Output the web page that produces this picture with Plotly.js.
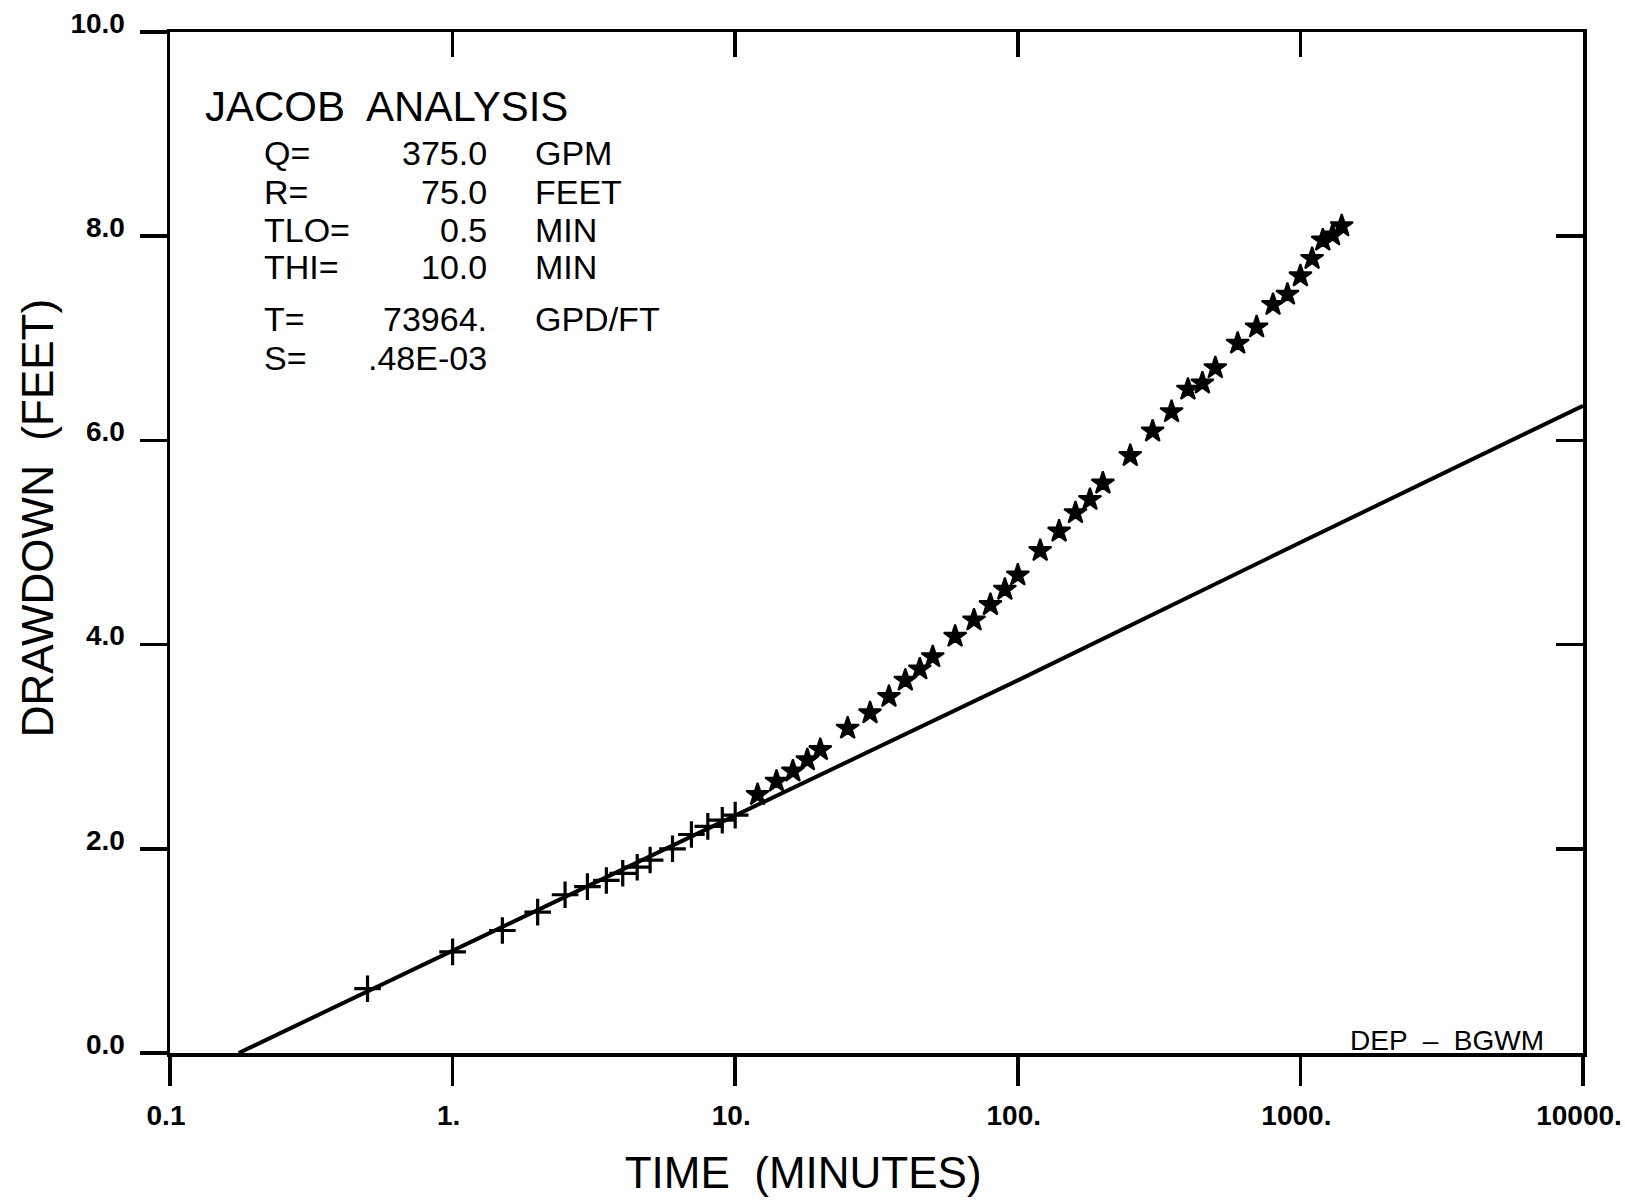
<!DOCTYPE html>
<html>
<head>
<meta charset="utf-8">
<script src="https://cdn.plot.ly/plotly-3.0.1.min.js"></script>
<style>
html,body{margin:0;padding:0;background:#fff;}
#chart{width:1625px;height:1200px;}
</style>
</head>
<body>
<div id="chart"></div>
<script>
// ---- data ----
const crossTime = [0.5, 1, 1.5, 2, 2.5, 3, 3.5, 4, 4.5, 5, 6, 7, 8, 9, 10];
const crossDrawdown = [0.63, 0.99, 1.20, 1.38, 1.55, 1.63, 1.69, 1.76, 1.82, 1.89, 2.00, 2.14, 2.22, 2.28, 2.33];

const starTime = [12, 14, 16, 18, 20, 25, 30, 35, 40, 45, 50, 60, 70, 80, 90, 100,
  120, 140, 160, 180, 200, 250, 300, 350, 400, 450, 500, 600, 700, 800, 900, 1000,
  1100, 1200, 1300, 1400];
const starDrawdown = [2.53, 2.66, 2.76, 2.87, 2.97, 3.18, 3.33, 3.49, 3.65, 3.76, 3.88, 4.08, 4.24, 4.39, 4.54, 4.68,
  4.92, 5.11, 5.29, 5.42, 5.58, 5.85, 6.09, 6.28, 6.50, 6.56, 6.71, 6.95, 7.11, 7.33, 7.43, 7.61,
  7.78, 7.96, 8.01, 8.10];

const lineTime = [0.175, 1, 10, 100, 1000, 10000];
const lineDrawdown = [0, 1.00, 2.33, 3.65, 5.00, 6.34];

const xTickVals = [0.1, 1, 10, 100, 1000, 10000];
const xTickText = ['0.1', '1.', '10.', '100.', '1000.', '10000.'];
const yTickVals = [0, 2, 4, 6, 8, 10];
const yTickText = ['0.0', '2.0', '4.0', '6.0', '8.0', '10.0'];

const infoLabels = ['Q=', 'R=', 'TLO=', 'THI=', 'T=', 'S='];
const infoValues = ['375.0', '75.0', '0.5', '10.0', '73964.', '.48E-03'];
const infoUnits = ['GPM', 'FEET', 'MIN', 'MIN', 'GPD/FT', ''];

const infoTitle = 'JACOB  ANALYSIS';
const tagText = 'DEP  \u2013  BGWM';
const xTitle = 'TIME  (MINUTES)';
const yTitle = 'DRAWDOWN  (FEET)';

// ---- layout geometry (pixels) ----
const W = 1625, H = 1200;
const L = 170, R = 1583, T = 32, B = 1053;
const px = x => (x - L) / (R - L);
const py = y => (B - y) / (B - T);

const FONT = 'Liberation Sans, Arial, sans-serif';
const black = '#000000';

const traces = [
  {
    x: lineTime, y: lineDrawdown, type: 'scatter', mode: 'lines',
    line: {color: black, width: 4}, hoverinfo: 'skip'
  },
  {
    x: crossTime, y: crossDrawdown, type: 'scatter', mode: 'markers',
    marker: {symbol: 'cross-thin', size: 19, color: black, line: {color: black, width: 3.2}}
  },
  {
    x: starTime, y: starDrawdown, type: 'scatter', mode: 'markers',
    marker: {symbol: 'star', size: 17, color: black, line: {color: black, width: 2}}
  },
  {x: [], y: [], xaxis: 'x2', yaxis: 'y2', type: 'scatter', mode: 'markers', hoverinfo: 'skip'}
];

// non-breaking padding kept after trimming by a zero-width guard, used to offset the centred titles
const pad = n => '\u00a0'.repeat(n);
const ZW = '\u200b';

const annotations = [];
annotations.push({
  xref: 'paper', yref: 'paper', x: px(203), y: py(106), xanchor: 'left', yanchor: 'middle',
  text: infoTitle, showarrow: false, font: {family: FONT, size: 42, color: black}
});
const rowY = [153, 192, 230, 267, 319, 358];
for (let i = 0; i < infoLabels.length; i++) {
  annotations.push({xref: 'paper', yref: 'paper', x: px(262), y: py(rowY[i]), xanchor: 'left', yanchor: 'middle',
    text: infoLabels[i], showarrow: false, font: {family: FONT, size: 34, color: black}});
  annotations.push({xref: 'paper', yref: 'paper', x: px(489), y: py(rowY[i]), xanchor: 'right', yanchor: 'middle',
    text: infoValues[i], showarrow: false, font: {family: FONT, size: 34, color: black}});
  if (infoUnits[i]) {
    annotations.push({xref: 'paper', yref: 'paper', x: px(533), y: py(rowY[i]), xanchor: 'left', yanchor: 'middle',
      text: infoUnits[i], showarrow: false, font: {family: FONT, size: 34, color: black}});
  }
}
annotations.push({
  xref: 'paper', yref: 'paper', x: px(1447), y: py(1040), xanchor: 'center', yanchor: 'middle',
  text: tagText, showarrow: false, font: {family: FONT, size: 28, color: black}
});

const layout = {
  width: W, height: H,
  margin: {l: L, r: W - R, t: T, b: H - B, pad: 0},
  paper_bgcolor: '#ffffff', plot_bgcolor: '#ffffff',
  showlegend: false,
  font: {family: FONT, color: black},
  xaxis: {
    type: 'log', range: [-1, 4], showgrid: false, zeroline: false,
    showline: true, linecolor: black, linewidth: 3.5,
    tickmode: 'array', tickvals: xTickVals, ticktext: xTickText,
    ticks: 'outside', ticklen: 29, tickwidth: 3.5, tickcolor: black,
    tickfont: {family: FONT, size: 28, weight: 'bold', color: black},
    ticklabelstandoff: 6, ticklabelshift: -4, ticklabeloverflow: 'allow',
    title: {text: xTitle + pad(12) + ZW, font: {family: FONT, size: 44, color: black}, standoff: 28}
  },
  yaxis: {
    range: [0, 10], showgrid: false, zeroline: false,
    showline: true, linecolor: black, linewidth: 3.5,
    tickmode: 'array', tickvals: yTickVals, ticktext: yTickText,
    ticks: 'outside', ticklen: 27, tickwidth: 3.5, tickcolor: black,
    tickfont: {family: FONT, size: 28, weight: 'bold', color: black},
    ticklabelshift: -9, ticklabelstandoff: 9, ticklabeloverflow: 'allow',
    title: {text: ZW + pad(4) + yTitle, font: {family: FONT, size: 44, color: black}, standoff: 4}
  },
  xaxis2: {
    type: 'log', range: [-1, 4], overlaying: 'x', side: 'top', anchor: 'y2',
    showgrid: false, zeroline: false, showline: true, linecolor: black, linewidth: 3.5,
    tickmode: 'array', tickvals: [1, 10, 100, 1000], ticks: 'inside', ticklen: 25, tickwidth: 3.5,
    tickcolor: black, showticklabels: false
  },
  yaxis2: {
    range: [0, 10], overlaying: 'y', side: 'right', anchor: 'x2',
    showgrid: false, zeroline: false, showline: true, linecolor: black, linewidth: 3.5,
    tickmode: 'array', tickvals: [2, 4, 6, 8], ticks: 'inside', ticklen: 27, tickwidth: 3.5,
    tickcolor: black, showticklabels: false
  },
  annotations: annotations
};

Plotly.newPlot('chart', traces, layout, {displayModeBar: false, staticPlot: true});
</script>
</body>
</html>
